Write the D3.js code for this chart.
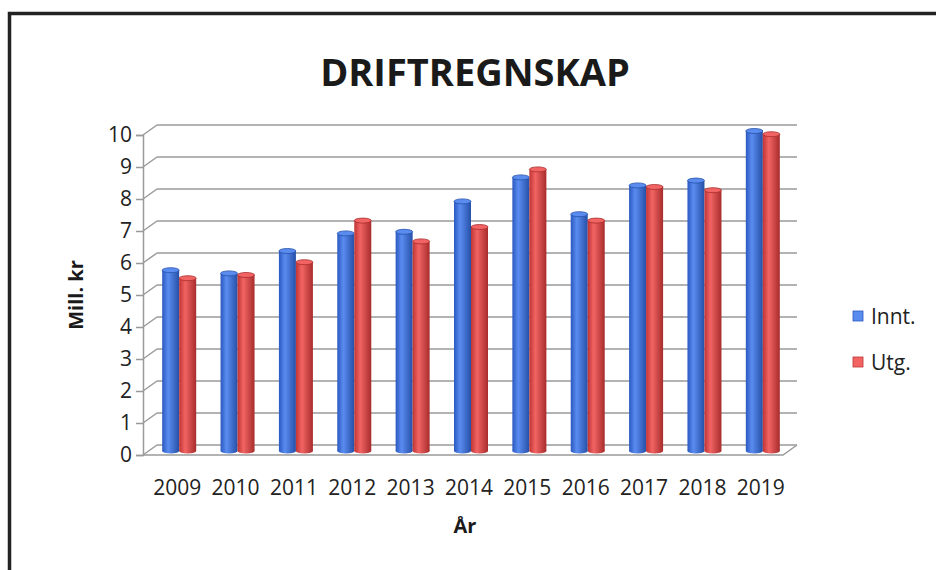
<!DOCTYPE html>
<html>
<head>
<meta charset="utf-8">
<script src="https://cdn.jsdelivr.net/npm/d3@7.9.0/dist/d3.min.js"></script>
<style>
  body { margin: 0; background: #fff; }
  svg { display: block; font-family: "Open Sans", sans-serif; }
</style>
</head>
<body>
<div id="chart"></div>
<script>
/* ── data ──────────────────────────────────────────────────── */
const years  = ['2009','2010','2011','2012','2013','2014','2015','2016','2017','2018','2019'];
const series = ['Innt.', 'Utg.'];
const innt   = [5.65, 5.55, 6.25, 6.8, 6.85, 7.8, 8.55, 7.4, 8.3, 8.45, 10.0];
const utg    = [5.4, 5.5, 5.9, 7.2, 6.55, 7.0, 8.8, 7.2, 8.25, 8.15, 9.9];
const yTicks = d3.range(0, 11);

const colors = { 'Innt.': ['#2a58c0', '#5a8cf0', '#2650a8'], 'Utg.': ['#c03434', '#f26464', '#a82c2c'] };

const width = 936, height = 570;
const depth = { dx: 14, dy: -10 };      // 3d wall offset

const svg = d3.select('#chart').append('svg')
  .attr('width', width).attr('height', height);

/* gradients for the cylinders */
const defs = svg.append('defs');
series.forEach((s, i) => {
  const g = defs.append('linearGradient').attr('id', 'grad' + i)
    .attr('x1', '0%').attr('x2', '100%');
  g.append('stop').attr('offset', '0%').attr('stop-color', colors[s][0]);
  g.append('stop').attr('offset', '35%').attr('stop-color', colors[s][1]);
  g.append('stop').attr('offset', '100%').attr('stop-color', colors[s][2]);
});

/* frame */
svg.append('path')
  .attr('d', `M9.5,${height} V13.5 H${width}`)
  .attr('fill', 'none').attr('stroke', '#222').attr('stroke-width', 3.5);

/* scales */
const x = d3.scaleBand().domain(years).range([150, 792]).paddingInner(0).paddingOuter(0);
const xs = d3.scaleBand().domain(series).range([0, 34]);
const yFront = d3.scaleLinear().domain([0, 10]).range([455, 135]);
const yBack  = d3.scaleLinear().domain([0, 10]).range([455 + depth.dy, 135 + depth.dy]);
const yBar   = d3.scaleLinear().domain([0, 10]).range([451, 131]);

const x0 = 143, x1 = 783;   // front left / front right

/* back wall gridlines */
const grid = svg.append('g').attr('stroke', '#9a9a9a').attr('stroke-width', 1.5).attr('fill', 'none');
grid.selectAll('line.g').data(yTicks).join('line')
  .attr('class', 'g')
  .attr('x1', x0 + depth.dx).attr('x2', x1 + depth.dx)
  .attr('y1', d => yBack(d)).attr('y2', d => yBack(d));
/* side-wall diagonals */
grid.selectAll('line.d').data(yTicks).join('line')
  .attr('class', 'd')
  .attr('x1', x0).attr('x2', x0 + depth.dx)
  .attr('y1', d => yFront(d)).attr('y2', d => yBack(d));
/* floor */
grid.append('path')
  .attr('d', `M${x0},${yFront(0)} H${x1} L${x1 + depth.dx},${yBack(0)}`);

/* front y axis */
const yAxis = svg.append('g')
  .attr('transform', `translate(${x0},0)`)
  .call(d3.axisLeft(yFront).tickValues(yTicks).tickSize(7).tickPadding(4).tickFormat(d3.format('d')));
yAxis.select('.domain').attr('stroke', '#9a9a9a').attr('stroke-width', 1.5);
yAxis.selectAll('.tick line').attr('stroke', '#9a9a9a').attr('stroke-width', 1.5);
yAxis.selectAll('.tick text').attr('font-size', 21).attr('fill', '#222')
  .attr('font-family', '"Open Sans", sans-serif');

/* bars as cylinders */
const rows = years.map((yr, i) => ({ yr, vals: [innt[i], utg[i]] }));
const bw = xs.bandwidth();
const groups = svg.append('g').selectAll('g').data(rows).join('g')
  .attr('transform', d => `translate(${x(d.yr) + x.bandwidth() / 2 - 17},0)`);

groups.selectAll('g.bar').data(d => d.vals.map((v, k) => ({ s: series[k], k, v })))
  .join('g').attr('class', 'bar')
  .each(function (d) {
    const g = d3.select(this);
    const bx = xs(d.s), top = yBar(d.v), bot = yBar(0);
    g.append('rect').attr('x', bx).attr('y', top).attr('width', bw).attr('height', bot - top)
      .attr('fill', `url(#grad${d.k})`);
    g.append('ellipse').attr('cx', bx + bw / 2).attr('cy', bot).attr('rx', bw / 2).attr('ry', 2.5)
      .attr('fill', `url(#grad${d.k})`);
    g.append('ellipse').attr('cx', bx + bw / 2).attr('cy', top).attr('rx', bw / 2).attr('ry', 2.5)
      .attr('fill', colors[d.s][1]).attr('stroke', colors[d.s][2]).attr('stroke-width', 0.8);
  });

/* x labels */
svg.append('g').selectAll('text').data(years).join('text')
  .attr('x', d => x(d) + x.bandwidth() / 2 - 2)
  .attr('y', 495)
  .attr('text-anchor', 'middle')
  .attr('font-size', 21).attr('fill', '#222')
  .text(d => d);

/* titles */
svg.append('text').attr('x', 475).attr('y', 86).attr('text-anchor', 'middle')
  .attr('font-size', 38).attr('font-weight', 'bold').attr('fill', '#1a1a1a')
  .text('DRIFTREGNSKAP');
svg.append('text').attr('x', 465).attr('y', 533).attr('text-anchor', 'middle')
  .attr('font-size', 20).attr('font-weight', 'bold').attr('fill', '#1a1a1a')
  .text('År');
svg.append('text').attr('transform', 'translate(83,295) rotate(-90)').attr('text-anchor', 'middle')
  .attr('font-size', 20).attr('font-weight', 'bold').attr('fill', '#1a1a1a')
  .text('Mill. kr');

/* legend */
const legend = svg.append('g').selectAll('g').data(series).join('g')
  .attr('transform', (d, i) => `translate(853,${311 + i * 46})`);
legend.append('rect').attr('width', 10).attr('height', 10)
  .attr('fill', d => colors[d][1]).attr('stroke', d => colors[d][0]).attr('stroke-width', 0.8);
legend.append('text').attr('x', 18).attr('y', 13)
  .attr('font-size', 21).attr('fill', '#222')
  .text(d => d);
</script>
</body>
</html>
